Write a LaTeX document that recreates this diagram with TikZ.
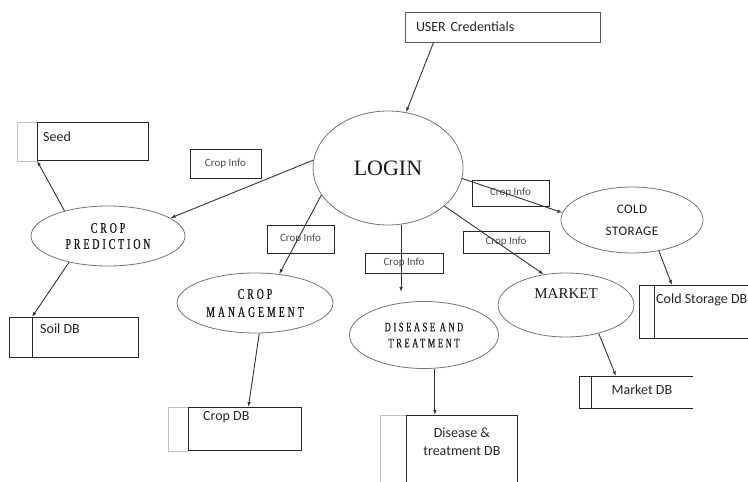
\documentclass[tikz,border=0pt]{standalone}
\usepackage{fontspec}
\setmainfont{Carlito}
\newfontfamily\capfont[FakeStretch=0.65,LetterSpace=20,FakeBold=0.6]{Liberation Serif}
\newfontfamily\romfont{Liberation Serif}
\usetikzlibrary{shapes,arrows.meta}

\tikzset{
  proc/.style={draw=black!55, ellipse, inner sep=0pt, line width=0.8pt, align=center, text=black!90},
  infobox/.style={draw=black!85, inner sep=0pt, line width=0.8pt, font=\fontsize{11}{13}\selectfont, text=black!70},
  dbbox/.style={draw=black!85, inner sep=0pt, line width=0.8pt, anchor=north west},
  dbtext/.style={font=\fontsize{14}{18}\selectfont, text=black!85, inner sep=0pt},
  flow/.style={-{Latex[length=5pt,width=3.5pt]}, line width=0.9pt, black!80},
  strip/.style={draw=black!25, line width=0.6pt},
  stripdark/.style={draw=black!85, line width=0.8pt}
}

\begin{document}
\begin{tikzpicture}[x=1pt,y=-1pt]
\clip (0,0) rectangle (748,482);

% processes
\node (user) at (502.5,27)[draw=black!65, line width=1pt, minimum width=195, minimum height=30, inner sep=0pt, text width=173, align=left, font=\fontsize{14}{17}\selectfont, text=black!85] {USER Credentials};
\node (login) at (388,168)[proc, minimum width=150, minimum height=114, font=\romfont\fontsize{22}{26}\selectfont] {LOGIN};
\node (cpred) at (108,236)[proc, minimum width=154, minimum height=60, font=\capfont\fontsize{15}{16}\selectfont] {CROP\\PREDICTION};
\node (cmgmt) at (255,303)[proc, minimum width=156, minimum height=60, font=\capfont\fontsize{15}{18}\selectfont] {CROP\\MANAGEMENT};
\node (dis) at (424,335)[proc, minimum width=149, minimum height=67, font=\capfont\fontsize{13}{16}\selectfont] {DISEASE AND\\TREATMENT};
\node (market) at (566,305)[proc, minimum width=136, minimum height=64, label={[yshift=11pt, font=\romfont\fontsize{15}{18}\selectfont, text=black!90]center:MARKET}] {};
\node (cold) at (632,220)[proc, minimum width=142, minimum height=66, font=\addfontfeature{LetterSpace=4}\fontsize{13}{22}\selectfont] {COLD\\STORAGE};

% crop info labels
\node (ci1) at (225.5,163.5)[infobox, minimum width=71, minimum height=29] {Crop Info};
\node (ci2) at (300.5,239)[infobox, minimum width=67, minimum height=28] {Crop Info};
\node (ci3) at (404,263)[infobox, minimum width=78, minimum height=20] {Crop Info};
\node (ci4) at (510.5,193)[infobox, minimum width=77, minimum height=26] {Crop Info};
\node (ci5) at (506,242)[infobox, minimum width=86, minimum height=22] {Crop Info};

% stores
\node (seed) at (37,122)[dbbox, minimum width=111, minimum height=38] {};
\draw[strip] (seed.north west) -- ++(-20,0) |- (seed.south west);
\node (seedtxt) at ([xshift=6,yshift=-15]seed.north west)[dbtext, anchor=west] {Seed};

\node (soil) at (32,317)[dbbox, minimum width=106, minimum height=40] {};
\draw[stripdark] (soil.north west) -- ++(-23,0) |- (soil.south west);
\node (soiltxt) at ([xshift=8,yshift=-12]soil.north west)[dbtext, anchor=west] {Soil DB};

\node (cropdb) at (188,407)[dbbox, minimum width=113, minimum height=43] {};
\draw[strip] (cropdb.north west) -- ++(-20,0) |- (cropdb.south west);
\node (cropdbtxt) at ([xshift=15,yshift=-10]cropdb.north west)[dbtext, anchor=west] {Crop DB};

\node (disdb) at (406,415)[dbbox, minimum width=111, minimum height=80] {};
\draw[strip] (disdb.north west) -- ++(-26,0) |- (disdb.south west);
\node (disdbtxt) at ([yshift=-27]disdb.north)[dbtext, align=center] {Disease \&\\treatment DB};

\node (mdb) at (591,376)[dbbox, draw=none, minimum width=101, minimum height=32] {};
\draw[stripdark] (mdb.north east) -- (mdb.north west) -- (mdb.south west) -- (mdb.south east);
\draw[stripdark] (mdb.north west) -- ++(-12,0) |- (mdb.south west);
\node (mdbtxt) at ([yshift=3]mdb.center)[dbtext] {Market DB};

\node (cdb) at (654,285)[dbbox, minimum width=120, minimum height=53] {};
\draw[stripdark] (cdb.north west) -- ++(-15,0) |- (cdb.south west);
\node (cdbtxt) at ([xshift=2,yshift=-15]cdb.north west)[dbtext, anchor=west] {Cold Storage DB};

% flows
\draw[flow] ([xshift=29]user.south west) -- (login.72);
\draw[flow] (login.174) -- (cpred.16);
\draw[flow] (cpred.150) -- (seed.south west);
\draw[flow] (cpred.214) -- (soil.north west);
\draw[flow] (login.202) -- (cmgmt.50);
\draw[flow] (login.283) -- ([yshift=9]login.283 |- dis.north);
\draw[flow] (login.352) -- (cold.174);
\draw[flow] (login.326) -- (market.126);
\draw[flow] (cmgmt.278) -- ([xshift=3.5]cropdb.north);
\draw[flow] (dis.288) -- (dis.288 |- disdb.north);
\draw[flow] (market.319) -- ([xshift=25]mdb.north west);
\draw[flow] (cold.311) -- ([xshift=18]cdb.north west);
\end{tikzpicture}
\end{document}
